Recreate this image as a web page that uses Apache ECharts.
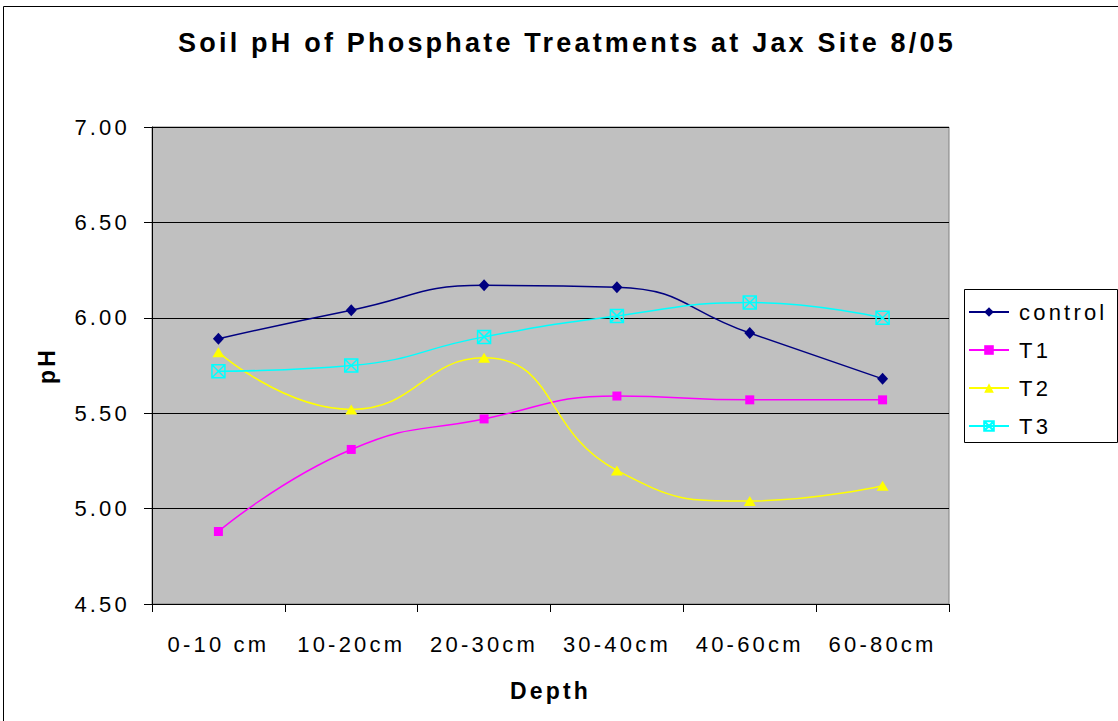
<!DOCTYPE html>
<html>
<head>
<meta charset="utf-8">
<script src="https://cdn.jsdelivr.net/npm/echarts@6/dist/echarts.min.js"></script>
<style>
  html, body { margin: 0; padding: 0; background: #fff; }
  #chart { width: 1118px; height: 721px; }
  #chart text { letter-spacing: 3.2px; }
</style>
</head>
<body>
<div id="chart"></div>
<script>
const categories = ['0-10 cm', '10-20cm', '20-30cm', '30-40cm', '40-60cm', '60-80cm'];
const controlValues = [5.89, 6.04, 6.17, 6.16, 5.92, 5.68];
const t1Values = [4.88, 5.31, 5.47, 5.59, 5.57, 5.57];
const t2Values = [5.82, 5.52, 5.79, 5.20, 5.04, 5.12];
const t3Values = [5.72, 5.75, 5.90, 6.01, 6.08, 6.00];
const seriesNames = ['control', 'T1', 'T2', 'T3'];
const yMin = 4.5, yMax = 7.0, yStep = 0.5;

const FONT = '"Liberation Sans", Arial, Helvetica, sans-serif';
const boxX = 'path://M0,0 L20,0 L20,20 L0,20 Z M0,0 L20,20 M20,0 L0,20';

const chart = echarts.init(document.getElementById('chart'), null, { renderer: 'svg' });

function lineSeries(name, data, color, symbol, size, extra) {
  return Object.assign({
    name: name,
    type: 'line',
    data: data,
    smooth: 0.5,
    symbol: symbol,
    symbolSize: size,
    showAllSymbol: true,
    lineStyle: { color: color, width: 1.5 },
    itemStyle: { color: color },
    emphasis: { disabled: true },
    animation: false
  }, extra || {});
}

const option = {
  backgroundColor: '#ffffff',
  animation: false,
  title: {
    text: 'Soil pH of Phosphate Treatments at Jax Site 8/05',
    left: 562,
    top: 24,
    textAlign: 'center',
    textStyle: { fontFamily: FONT, fontSize: 27, fontWeight: 'bold', color: '#000' }
  },
  graphic: [
    { type: 'rect', shape: { x: 3.5, y: 6.5, width: 1300, height: 900 },
      style: { fill: 'none', stroke: '#000', lineWidth: 1 }, silent: true, z: 100 },
    { type: 'rect', shape: { x: 964.5, y: 289.5, width: 153, height: 153 },
      style: { fill: '#fff', stroke: '#000', lineWidth: 1 }, silent: true, z: 0 }
  ],
  legend: {
    orient: 'vertical',
    left: 968,
    top: 301,
    itemWidth: 40,
    itemHeight: 12,
    itemGap: 16,
    padding: 0,
    data: seriesNames,
    textStyle: { fontFamily: FONT, fontSize: 22, color: '#000', padding: [0, 0, 0, 5] },
    selectedMode: false,
    z: 10
  },
  grid: {
    left: 152, top: 127, right: 169, bottom: 117,
    show: true, backgroundColor: '#C0C0C0', borderColor: '#808080', borderWidth: 1,
    containLabel: false
  },
  xAxis: {
    type: 'category',
    data: categories,
    boundaryGap: true,
    name: 'Depth',
    nameLocation: 'middle',
    nameGap: 75,
    nameTextStyle: { fontFamily: FONT, fontSize: 23, fontWeight: 'bold', color: '#000' },
    axisLine: { show: true, lineStyle: { color: '#000', width: 1 } },
    axisTick: { show: true, inside: false, length: 8, alignWithLabel: false, lineStyle: { color: '#000' } },
    axisLabel: { interval: 0, margin: 29, fontFamily: FONT, fontSize: 22, color: '#000' },
    splitLine: { show: false }
  },
  yAxis: {
    type: 'value',
    min: yMin, max: yMax, interval: yStep,
    name: 'pH',
    nameLocation: 'middle',
    nameRotate: 90,
    nameGap: 94,
    nameTextStyle: { fontFamily: FONT, fontSize: 23, fontWeight: 'bold', color: '#000' },
    axisLine: { show: true, lineStyle: { color: '#000', width: 1 } },
    axisTick: { show: true, inside: false, length: 8, lineStyle: { color: '#000' } },
    axisLabel: { margin: 22, fontFamily: FONT, fontSize: 22, color: '#000',
      formatter: v => v.toFixed(2) },
    splitLine: { show: true, lineStyle: { color: '#000', width: 1 } }
  },
  series: [
    lineSeries('control', controlValues, '#000080', 'diamond', [11, 12]),
    lineSeries('T1', t1Values, '#FF00FF', 'rect', 9),
    lineSeries('T2', t2Values, '#FFFF00', 'triangle', [12, 10]),
    lineSeries('T3', t3Values, '#00FFFF', boxX, 13, {
      itemStyle: { color: 'rgba(0,0,0,0)', borderColor: '#00FFFF', borderWidth: 1.5 }
    })
  ]
};

chart.setOption(option);
</script>
</body>
</html>
